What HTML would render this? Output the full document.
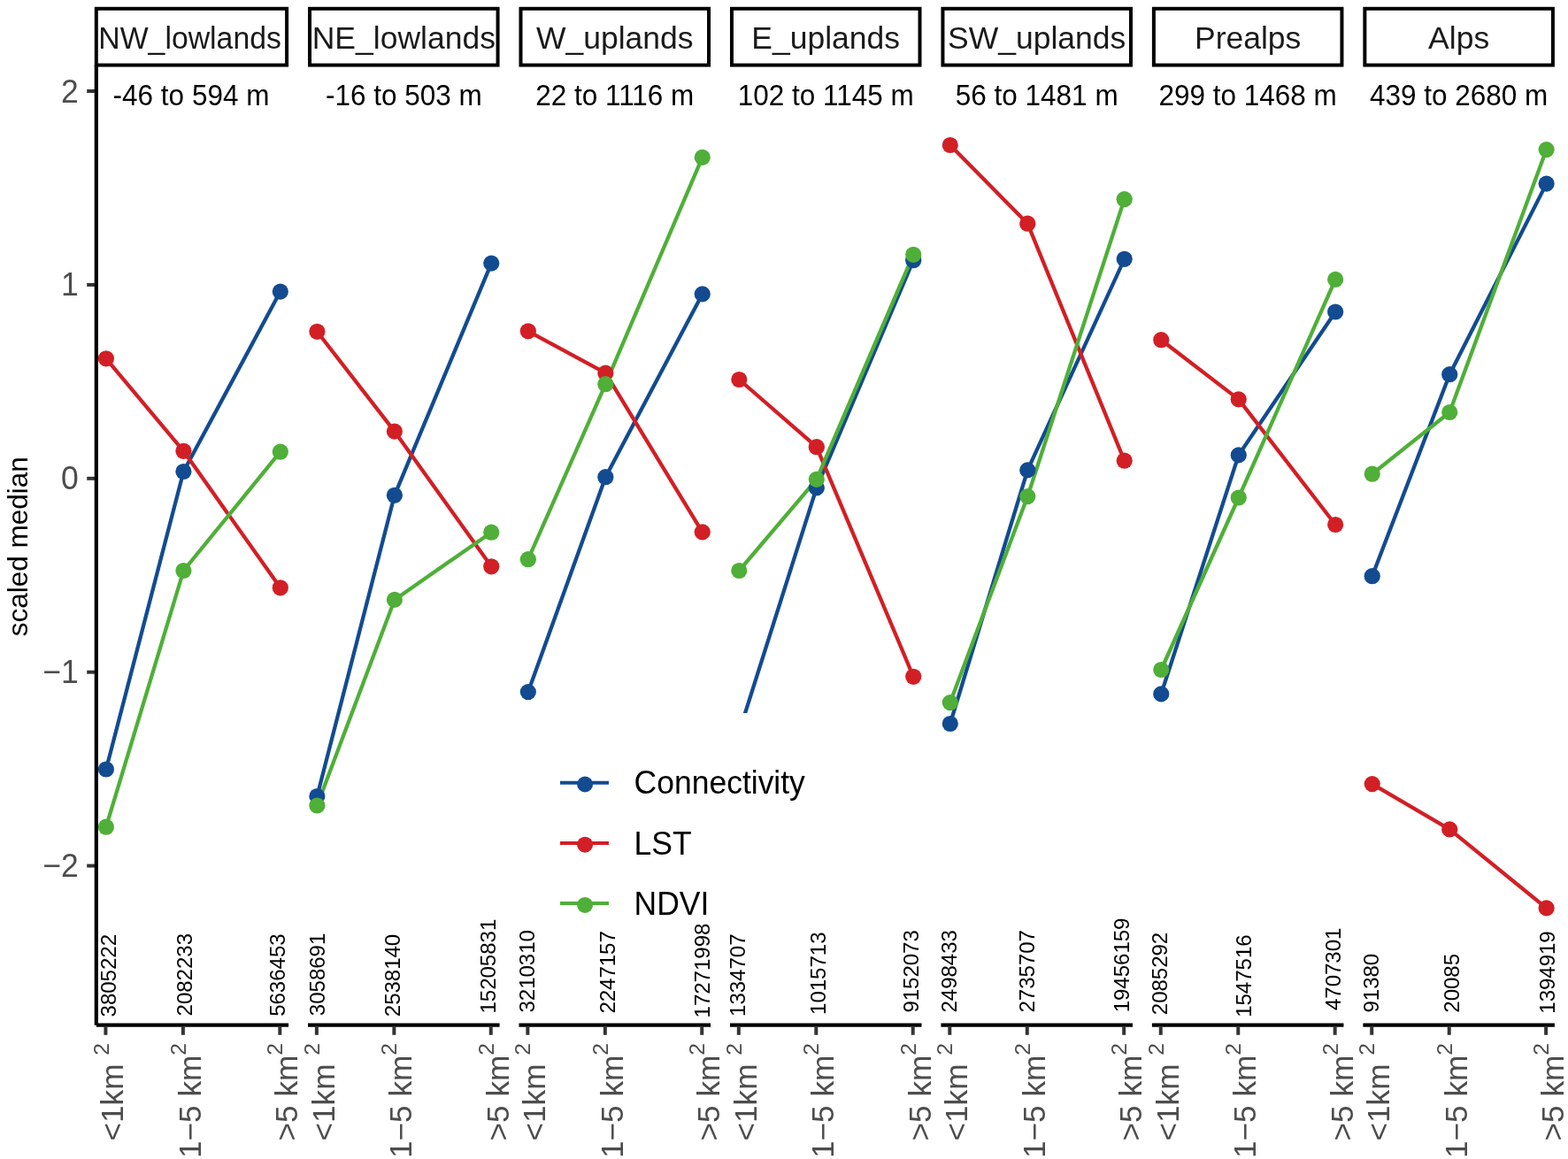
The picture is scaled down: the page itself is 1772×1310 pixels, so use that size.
<!DOCTYPE html><html><head><meta charset="utf-8"><title>scaled median by region</title><style>html,body{margin:0;padding:0;background:#fff;}svg{display:block;}text{font-family:"Liberation Sans", Arial, Helvetica, sans-serif;}</style></head><body>
<svg width="1772" height="1310" viewBox="0 0 1772 1310">
<rect x="0" y="0" width="1772" height="1310" fill="#fff"/>
<text transform="translate(31.3,617.8) rotate(-90)" text-anchor="middle" font-size="31.5" fill="#000">scaled median</text>
<line x1="98.2" y1="103.00" x2="108.8" y2="103.00" stroke="#333" stroke-width="4"/>
<text transform="translate(88.8,115.50) scale(1,1.03)" text-anchor="end" font-size="35.5" fill="#4D4D4D">2</text>
<line x1="98.2" y1="321.90" x2="108.8" y2="321.90" stroke="#333" stroke-width="4"/>
<text transform="translate(88.8,334.40) scale(1,1.03)" text-anchor="end" font-size="35.5" fill="#4D4D4D">1</text>
<line x1="98.2" y1="540.80" x2="108.8" y2="540.80" stroke="#333" stroke-width="4"/>
<text transform="translate(88.8,553.30) scale(1,1.03)" text-anchor="end" font-size="35.5" fill="#4D4D4D">0</text>
<line x1="98.2" y1="759.70" x2="108.8" y2="759.70" stroke="#333" stroke-width="4"/>
<text transform="translate(88.8,772.20) scale(1,1.03)" text-anchor="end" font-size="35.5" fill="#4D4D4D">−1</text>
<line x1="98.2" y1="978.60" x2="108.8" y2="978.60" stroke="#333" stroke-width="4"/>
<text transform="translate(88.8,991.10) scale(1,1.03)" text-anchor="end" font-size="35.5" fill="#4D4D4D">−2</text>
<polyline points="119.90,869.50 207.40,533.00 316.80,329.60" fill="none" stroke="#134B91" stroke-width="4.3" stroke-linejoin="round" stroke-linecap="butt"/>
<polyline points="119.90,405.30 207.40,509.80 316.80,664.30" fill="none" stroke="#D21F25" stroke-width="4.3" stroke-linejoin="round" stroke-linecap="butt"/>
<polyline points="119.90,934.70 207.40,645.00 316.80,510.70" fill="none" stroke="#4FAF38" stroke-width="4.3" stroke-linejoin="round" stroke-linecap="butt"/>
<polyline points="358.37,900.00 445.87,559.80 555.27,297.60" fill="none" stroke="#134B91" stroke-width="4.3" stroke-linejoin="round" stroke-linecap="butt"/>
<polyline points="358.37,374.80 445.87,487.60 555.27,640.30" fill="none" stroke="#D21F25" stroke-width="4.3" stroke-linejoin="round" stroke-linecap="butt"/>
<polyline points="358.37,910.50 445.87,677.90 555.27,601.70" fill="none" stroke="#4FAF38" stroke-width="4.3" stroke-linejoin="round" stroke-linecap="butt"/>
<polyline points="596.84,782.10 684.34,539.20 793.74,332.40" fill="none" stroke="#134B91" stroke-width="4.3" stroke-linejoin="round" stroke-linecap="butt"/>
<polyline points="596.84,374.30 684.34,421.70 793.74,601.40" fill="none" stroke="#D21F25" stroke-width="4.3" stroke-linejoin="round" stroke-linecap="butt"/>
<polyline points="596.84,632.20 684.34,434.20 793.74,177.90" fill="none" stroke="#4FAF38" stroke-width="4.3" stroke-linejoin="round" stroke-linecap="butt"/>
<polyline points="835.31,827.30 922.81,551.40 1032.21,294.20" fill="none" stroke="#134B91" stroke-width="4.3" stroke-linejoin="round" stroke-linecap="butt"/>
<polyline points="835.31,429.00 922.81,505.20 1032.21,764.80" fill="none" stroke="#D21F25" stroke-width="4.3" stroke-linejoin="round" stroke-linecap="butt"/>
<polyline points="835.31,645.00 922.81,541.80 1032.21,287.80" fill="none" stroke="#4FAF38" stroke-width="4.3" stroke-linejoin="round" stroke-linecap="butt"/>
<polyline points="1073.78,818.00 1161.28,531.40 1270.68,292.80" fill="none" stroke="#134B91" stroke-width="4.3" stroke-linejoin="round" stroke-linecap="butt"/>
<polyline points="1073.78,164.00 1161.28,252.70 1270.68,520.70" fill="none" stroke="#D21F25" stroke-width="4.3" stroke-linejoin="round" stroke-linecap="butt"/>
<polyline points="1073.78,794.10 1161.28,561.10 1270.68,225.20" fill="none" stroke="#4FAF38" stroke-width="4.3" stroke-linejoin="round" stroke-linecap="butt"/>
<polyline points="1312.25,784.40 1399.75,514.40 1509.15,352.50" fill="none" stroke="#134B91" stroke-width="4.3" stroke-linejoin="round" stroke-linecap="butt"/>
<polyline points="1312.25,384.20 1399.75,451.40 1509.15,593.00" fill="none" stroke="#D21F25" stroke-width="4.3" stroke-linejoin="round" stroke-linecap="butt"/>
<polyline points="1312.25,757.00 1399.75,562.50 1509.15,315.90" fill="none" stroke="#4FAF38" stroke-width="4.3" stroke-linejoin="round" stroke-linecap="butt"/>
<polyline points="1550.72,651.20 1638.22,423.20 1747.62,207.60" fill="none" stroke="#134B91" stroke-width="4.3" stroke-linejoin="round" stroke-linecap="butt"/>
<polyline points="1550.72,886.10 1638.22,937.40 1747.62,1026.40" fill="none" stroke="#D21F25" stroke-width="4.3" stroke-linejoin="round" stroke-linecap="butt"/>
<polyline points="1550.72,535.70 1638.22,466.00 1747.62,169.10" fill="none" stroke="#4FAF38" stroke-width="4.3" stroke-linejoin="round" stroke-linecap="butt"/>
<circle cx="119.90" cy="869.50" r="9.1" fill="#134B91"/>
<circle cx="207.40" cy="533.00" r="9.1" fill="#134B91"/>
<circle cx="316.80" cy="329.60" r="9.1" fill="#134B91"/>
<circle cx="119.90" cy="405.30" r="9.1" fill="#D21F25"/>
<circle cx="207.40" cy="509.80" r="9.1" fill="#D21F25"/>
<circle cx="316.80" cy="664.30" r="9.1" fill="#D21F25"/>
<circle cx="119.90" cy="934.70" r="9.1" fill="#4FAF38"/>
<circle cx="207.40" cy="645.00" r="9.1" fill="#4FAF38"/>
<circle cx="316.80" cy="510.70" r="9.1" fill="#4FAF38"/>
<circle cx="358.37" cy="900.00" r="9.1" fill="#134B91"/>
<circle cx="445.87" cy="559.80" r="9.1" fill="#134B91"/>
<circle cx="555.27" cy="297.60" r="9.1" fill="#134B91"/>
<circle cx="358.37" cy="374.80" r="9.1" fill="#D21F25"/>
<circle cx="445.87" cy="487.60" r="9.1" fill="#D21F25"/>
<circle cx="555.27" cy="640.30" r="9.1" fill="#D21F25"/>
<circle cx="358.37" cy="910.50" r="9.1" fill="#4FAF38"/>
<circle cx="445.87" cy="677.90" r="9.1" fill="#4FAF38"/>
<circle cx="555.27" cy="601.70" r="9.1" fill="#4FAF38"/>
<circle cx="596.84" cy="782.10" r="9.1" fill="#134B91"/>
<circle cx="684.34" cy="539.20" r="9.1" fill="#134B91"/>
<circle cx="793.74" cy="332.40" r="9.1" fill="#134B91"/>
<circle cx="596.84" cy="374.30" r="9.1" fill="#D21F25"/>
<circle cx="684.34" cy="421.70" r="9.1" fill="#D21F25"/>
<circle cx="793.74" cy="601.40" r="9.1" fill="#D21F25"/>
<circle cx="596.84" cy="632.20" r="9.1" fill="#4FAF38"/>
<circle cx="684.34" cy="434.20" r="9.1" fill="#4FAF38"/>
<circle cx="793.74" cy="177.90" r="9.1" fill="#4FAF38"/>
<circle cx="835.31" cy="827.30" r="9.1" fill="#134B91"/>
<circle cx="922.81" cy="551.40" r="9.1" fill="#134B91"/>
<circle cx="1032.21" cy="294.20" r="9.1" fill="#134B91"/>
<circle cx="835.31" cy="429.00" r="9.1" fill="#D21F25"/>
<circle cx="922.81" cy="505.20" r="9.1" fill="#D21F25"/>
<circle cx="1032.21" cy="764.80" r="9.1" fill="#D21F25"/>
<circle cx="835.31" cy="645.00" r="9.1" fill="#4FAF38"/>
<circle cx="922.81" cy="541.80" r="9.1" fill="#4FAF38"/>
<circle cx="1032.21" cy="287.80" r="9.1" fill="#4FAF38"/>
<circle cx="1073.78" cy="818.00" r="9.1" fill="#134B91"/>
<circle cx="1161.28" cy="531.40" r="9.1" fill="#134B91"/>
<circle cx="1270.68" cy="292.80" r="9.1" fill="#134B91"/>
<circle cx="1073.78" cy="164.00" r="9.1" fill="#D21F25"/>
<circle cx="1161.28" cy="252.70" r="9.1" fill="#D21F25"/>
<circle cx="1270.68" cy="520.70" r="9.1" fill="#D21F25"/>
<circle cx="1073.78" cy="794.10" r="9.1" fill="#4FAF38"/>
<circle cx="1161.28" cy="561.10" r="9.1" fill="#4FAF38"/>
<circle cx="1270.68" cy="225.20" r="9.1" fill="#4FAF38"/>
<circle cx="1312.25" cy="784.40" r="9.1" fill="#134B91"/>
<circle cx="1399.75" cy="514.40" r="9.1" fill="#134B91"/>
<circle cx="1509.15" cy="352.50" r="9.1" fill="#134B91"/>
<circle cx="1312.25" cy="384.20" r="9.1" fill="#D21F25"/>
<circle cx="1399.75" cy="451.40" r="9.1" fill="#D21F25"/>
<circle cx="1509.15" cy="593.00" r="9.1" fill="#D21F25"/>
<circle cx="1312.25" cy="757.00" r="9.1" fill="#4FAF38"/>
<circle cx="1399.75" cy="562.50" r="9.1" fill="#4FAF38"/>
<circle cx="1509.15" cy="315.90" r="9.1" fill="#4FAF38"/>
<circle cx="1550.72" cy="651.20" r="9.1" fill="#134B91"/>
<circle cx="1638.22" cy="423.20" r="9.1" fill="#134B91"/>
<circle cx="1747.62" cy="207.60" r="9.1" fill="#134B91"/>
<circle cx="1550.72" cy="886.10" r="9.1" fill="#D21F25"/>
<circle cx="1638.22" cy="937.40" r="9.1" fill="#D21F25"/>
<circle cx="1747.62" cy="1026.40" r="9.1" fill="#D21F25"/>
<circle cx="1550.72" cy="535.70" r="9.1" fill="#4FAF38"/>
<circle cx="1638.22" cy="466.00" r="9.1" fill="#4FAF38"/>
<circle cx="1747.62" cy="169.10" r="9.1" fill="#4FAF38"/>
<rect x="600" y="806" width="345" height="242" fill="#fff"/>
<line x1="633" y1="884.70" x2="688" y2="884.70" stroke="#134B91" stroke-width="4"/>
<circle cx="661.1" cy="886.50" r="9" fill="#134B91"/>
<text transform="translate(716.6,897.30) scale(1,1.03)" font-size="35.5" fill="#000">Connectivity</text>
<line x1="633" y1="952.90" x2="688" y2="952.90" stroke="#D21F25" stroke-width="4"/>
<circle cx="661.1" cy="954.70" r="9" fill="#D21F25"/>
<text transform="translate(716.6,965.50) scale(1,1.03)" font-size="35.5" fill="#000">LST</text>
<line x1="633" y1="1021.10" x2="688" y2="1021.10" stroke="#4FAF38" stroke-width="4"/>
<circle cx="661.1" cy="1022.90" r="9" fill="#4FAF38"/>
<text transform="translate(716.6,1033.70) scale(1,1.03)" font-size="35.5" fill="#000">NDVI</text>
<text transform="translate(131.40,1149.43) rotate(-90) scale(1,1.03)" font-size="24" fill="#000">3805222</text>
<text transform="translate(216.80,1148.42) rotate(-90) scale(1,1.03)" font-size="24" fill="#000">2082233</text>
<text transform="translate(322.00,1148.83) rotate(-90) scale(1,1.03)" font-size="24" fill="#000">5636453</text>
<text transform="translate(367.00,1148.13) rotate(-90) scale(1,1.03)" font-size="24" fill="#000">3058691</text>
<text transform="translate(452.30,1149.22) rotate(-90) scale(1,1.03)" font-size="24" fill="#000">2538140</text>
<text transform="translate(559.90,1145.52) rotate(-90) scale(1,1.03)" font-size="24" fill="#000">15205831</text>
<text transform="translate(604.30,1144.53) rotate(-90) scale(1,1.03)" font-size="24" fill="#000">3210310</text>
<text transform="translate(694.50,1145.62) rotate(-90) scale(1,1.03)" font-size="24" fill="#000">2247157</text>
<text transform="translate(801.70,1150.42) rotate(-90) scale(1,1.03)" font-size="24" fill="#000">17271998</text>
<text transform="translate(841.90,1148.92) rotate(-90) scale(1,1.03)" font-size="24" fill="#000">1334707</text>
<text transform="translate(932.70,1146.92) rotate(-90) scale(1,1.03)" font-size="24" fill="#000">1015713</text>
<text transform="translate(1037.90,1144.61) rotate(-90) scale(1,1.03)" font-size="24" fill="#000">9152073</text>
<text transform="translate(1080.60,1144.52) rotate(-90) scale(1,1.03)" font-size="24" fill="#000">2498433</text>
<text transform="translate(1168.60,1144.52) rotate(-90) scale(1,1.03)" font-size="24" fill="#000">2735707</text>
<text transform="translate(1275.60,1144.32) rotate(-90) scale(1,1.03)" font-size="24" fill="#000">19456159</text>
<text transform="translate(1319.30,1147.22) rotate(-90) scale(1,1.03)" font-size="24" fill="#000">2085292</text>
<text transform="translate(1413.80,1149.82) rotate(-90) scale(1,1.03)" font-size="24" fill="#000">1547516</text>
<text transform="translate(1515.10,1142.01) rotate(-90) scale(1,1.03)" font-size="24" fill="#000">4707301</text>
<text transform="translate(1557.60,1144.51) rotate(-90) scale(1,1.03)" font-size="24" fill="#000">91380</text>
<text transform="translate(1648.80,1144.72) rotate(-90) scale(1,1.03)" font-size="24" fill="#000">20085</text>
<text transform="translate(1756.70,1145.72) rotate(-90) scale(1,1.03)" font-size="24" fill="#000">1394919</text>
<rect x="108.80" y="9.8" width="215.30" height="63.8" fill="#fff" stroke="#000" stroke-width="4.0"/>
<text x="111.32" y="55" font-size="35.5" fill="#1A1A1A" textLength="206.6" lengthAdjust="spacingAndGlyphs">NW_lowlands</text>
<text transform="translate(216.00,118.6) scale(1,1.035)" text-anchor="middle" font-size="31.5" fill="#000">-46 to 594 m</text>
<rect x="350.02" y="9.8" width="212.55" height="63.8" fill="#fff" stroke="#000" stroke-width="4.0"/>
<text x="456.29" y="55" text-anchor="middle" font-size="35.5" fill="#1A1A1A">NE_lowlands</text>
<text transform="translate(456.29,118.6) scale(1,1.035)" text-anchor="middle" font-size="31.5" fill="#000">-16 to 503 m</text>
<rect x="588.49" y="9.8" width="212.55" height="63.8" fill="#fff" stroke="#000" stroke-width="4.0"/>
<text x="694.76" y="55" text-anchor="middle" font-size="35.5" fill="#1A1A1A">W_uplands</text>
<text transform="translate(694.76,118.6) scale(1,1.035)" text-anchor="middle" font-size="31.5" fill="#000">22 to 1116 m</text>
<rect x="826.96" y="9.8" width="212.55" height="63.8" fill="#fff" stroke="#000" stroke-width="4.0"/>
<text x="933.23" y="55" text-anchor="middle" font-size="35.5" fill="#1A1A1A">E_uplands</text>
<text transform="translate(933.23,118.6) scale(1,1.035)" text-anchor="middle" font-size="31.5" fill="#000">102 to 1145 m</text>
<rect x="1065.43" y="9.8" width="212.55" height="63.8" fill="#fff" stroke="#000" stroke-width="4.0"/>
<text x="1171.70" y="55" text-anchor="middle" font-size="35.5" fill="#1A1A1A">SW_uplands</text>
<text transform="translate(1171.70,118.6) scale(1,1.035)" text-anchor="middle" font-size="31.5" fill="#000">56 to 1481 m</text>
<rect x="1303.90" y="9.8" width="212.55" height="63.8" fill="#fff" stroke="#000" stroke-width="4.0"/>
<text x="1410.18" y="55" text-anchor="middle" font-size="35.5" fill="#1A1A1A">Prealps</text>
<text transform="translate(1410.18,118.6) scale(1,1.035)" text-anchor="middle" font-size="31.5" fill="#000">299 to 1468 m</text>
<rect x="1542.37" y="9.8" width="212.55" height="63.8" fill="#fff" stroke="#000" stroke-width="4.0"/>
<text x="1648.64" y="55" text-anchor="middle" font-size="35.5" fill="#1A1A1A">Alps</text>
<text transform="translate(1648.64,118.6) scale(1,1.035)" text-anchor="middle" font-size="31.5" fill="#000">439 to 2680 m</text>
<line x1="108.8" y1="73.6" x2="108.8" y2="1158.8" stroke="#000" stroke-width="4.2"/>
<line x1="108.90" y1="1158.6" x2="326.10" y2="1158.6" stroke="#000" stroke-width="4.2"/>
<line x1="119.40" y1="1160.5" x2="119.40" y2="1169.8" stroke="#333" stroke-width="4"/>
<text transform="translate(139.30,1179.0) rotate(-90)" text-anchor="end" font-size="35.2" fill="#4D4D4D">&lt;1km <tspan dy="-16.8" font-size="24.6">2</tspan></text>
<line x1="206.90" y1="1160.5" x2="206.90" y2="1169.8" stroke="#333" stroke-width="4"/>
<text transform="translate(226.80,1179.0) rotate(-90)" text-anchor="end" font-size="35.2" fill="#4D4D4D">1−5 km<tspan dy="-16.8" font-size="24.6">2</tspan></text>
<line x1="316.30" y1="1160.5" x2="316.30" y2="1169.8" stroke="#333" stroke-width="4"/>
<text transform="translate(336.20,1179.0) rotate(-90)" text-anchor="end" font-size="35.2" fill="#4D4D4D">&gt;5 km<tspan dy="-16.8" font-size="24.6">2</tspan></text>
<line x1="348.02" y1="1158.6" x2="564.57" y2="1158.6" stroke="#000" stroke-width="4.2"/>
<line x1="357.87" y1="1160.5" x2="357.87" y2="1169.8" stroke="#333" stroke-width="4"/>
<text transform="translate(377.77,1179.0) rotate(-90)" text-anchor="end" font-size="35.2" fill="#4D4D4D">&lt;1km <tspan dy="-16.8" font-size="24.6">2</tspan></text>
<line x1="445.37" y1="1160.5" x2="445.37" y2="1169.8" stroke="#333" stroke-width="4"/>
<text transform="translate(465.27,1179.0) rotate(-90)" text-anchor="end" font-size="35.2" fill="#4D4D4D">1−5 km<tspan dy="-16.8" font-size="24.6">2</tspan></text>
<line x1="554.77" y1="1160.5" x2="554.77" y2="1169.8" stroke="#333" stroke-width="4"/>
<text transform="translate(574.67,1179.0) rotate(-90)" text-anchor="end" font-size="35.2" fill="#4D4D4D">&gt;5 km<tspan dy="-16.8" font-size="24.6">2</tspan></text>
<line x1="586.49" y1="1158.6" x2="803.04" y2="1158.6" stroke="#000" stroke-width="4.2"/>
<line x1="596.34" y1="1160.5" x2="596.34" y2="1169.8" stroke="#333" stroke-width="4"/>
<text transform="translate(616.24,1179.0) rotate(-90)" text-anchor="end" font-size="35.2" fill="#4D4D4D">&lt;1km <tspan dy="-16.8" font-size="24.6">2</tspan></text>
<line x1="683.84" y1="1160.5" x2="683.84" y2="1169.8" stroke="#333" stroke-width="4"/>
<text transform="translate(703.74,1179.0) rotate(-90)" text-anchor="end" font-size="35.2" fill="#4D4D4D">1−5 km<tspan dy="-16.8" font-size="24.6">2</tspan></text>
<line x1="793.24" y1="1160.5" x2="793.24" y2="1169.8" stroke="#333" stroke-width="4"/>
<text transform="translate(813.14,1179.0) rotate(-90)" text-anchor="end" font-size="35.2" fill="#4D4D4D">&gt;5 km<tspan dy="-16.8" font-size="24.6">2</tspan></text>
<line x1="824.96" y1="1158.6" x2="1041.51" y2="1158.6" stroke="#000" stroke-width="4.2"/>
<line x1="834.81" y1="1160.5" x2="834.81" y2="1169.8" stroke="#333" stroke-width="4"/>
<text transform="translate(854.71,1179.0) rotate(-90)" text-anchor="end" font-size="35.2" fill="#4D4D4D">&lt;1km <tspan dy="-16.8" font-size="24.6">2</tspan></text>
<line x1="922.31" y1="1160.5" x2="922.31" y2="1169.8" stroke="#333" stroke-width="4"/>
<text transform="translate(942.21,1179.0) rotate(-90)" text-anchor="end" font-size="35.2" fill="#4D4D4D">1−5 km<tspan dy="-16.8" font-size="24.6">2</tspan></text>
<line x1="1031.71" y1="1160.5" x2="1031.71" y2="1169.8" stroke="#333" stroke-width="4"/>
<text transform="translate(1051.61,1179.0) rotate(-90)" text-anchor="end" font-size="35.2" fill="#4D4D4D">&gt;5 km<tspan dy="-16.8" font-size="24.6">2</tspan></text>
<line x1="1063.43" y1="1158.6" x2="1279.98" y2="1158.6" stroke="#000" stroke-width="4.2"/>
<line x1="1073.28" y1="1160.5" x2="1073.28" y2="1169.8" stroke="#333" stroke-width="4"/>
<text transform="translate(1093.18,1179.0) rotate(-90)" text-anchor="end" font-size="35.2" fill="#4D4D4D">&lt;1km <tspan dy="-16.8" font-size="24.6">2</tspan></text>
<line x1="1160.78" y1="1160.5" x2="1160.78" y2="1169.8" stroke="#333" stroke-width="4"/>
<text transform="translate(1180.68,1179.0) rotate(-90)" text-anchor="end" font-size="35.2" fill="#4D4D4D">1−5 km<tspan dy="-16.8" font-size="24.6">2</tspan></text>
<line x1="1270.18" y1="1160.5" x2="1270.18" y2="1169.8" stroke="#333" stroke-width="4"/>
<text transform="translate(1290.08,1179.0) rotate(-90)" text-anchor="end" font-size="35.2" fill="#4D4D4D">&gt;5 km<tspan dy="-16.8" font-size="24.6">2</tspan></text>
<line x1="1301.90" y1="1158.6" x2="1518.45" y2="1158.6" stroke="#000" stroke-width="4.2"/>
<line x1="1311.75" y1="1160.5" x2="1311.75" y2="1169.8" stroke="#333" stroke-width="4"/>
<text transform="translate(1331.65,1179.0) rotate(-90)" text-anchor="end" font-size="35.2" fill="#4D4D4D">&lt;1km <tspan dy="-16.8" font-size="24.6">2</tspan></text>
<line x1="1399.25" y1="1160.5" x2="1399.25" y2="1169.8" stroke="#333" stroke-width="4"/>
<text transform="translate(1419.15,1179.0) rotate(-90)" text-anchor="end" font-size="35.2" fill="#4D4D4D">1−5 km<tspan dy="-16.8" font-size="24.6">2</tspan></text>
<line x1="1508.65" y1="1160.5" x2="1508.65" y2="1169.8" stroke="#333" stroke-width="4"/>
<text transform="translate(1528.55,1179.0) rotate(-90)" text-anchor="end" font-size="35.2" fill="#4D4D4D">&gt;5 km<tspan dy="-16.8" font-size="24.6">2</tspan></text>
<line x1="1540.37" y1="1158.6" x2="1756.92" y2="1158.6" stroke="#000" stroke-width="4.2"/>
<line x1="1550.22" y1="1160.5" x2="1550.22" y2="1169.8" stroke="#333" stroke-width="4"/>
<text transform="translate(1570.12,1179.0) rotate(-90)" text-anchor="end" font-size="35.2" fill="#4D4D4D">&lt;1km <tspan dy="-16.8" font-size="24.6">2</tspan></text>
<line x1="1637.72" y1="1160.5" x2="1637.72" y2="1169.8" stroke="#333" stroke-width="4"/>
<text transform="translate(1657.62,1179.0) rotate(-90)" text-anchor="end" font-size="35.2" fill="#4D4D4D">1−5 km<tspan dy="-16.8" font-size="24.6">2</tspan></text>
<line x1="1747.12" y1="1160.5" x2="1747.12" y2="1169.8" stroke="#333" stroke-width="4"/>
<text transform="translate(1767.02,1179.0) rotate(-90)" text-anchor="end" font-size="35.2" fill="#4D4D4D">&gt;5 km<tspan dy="-16.8" font-size="24.6">2</tspan></text>
</svg></body></html>
